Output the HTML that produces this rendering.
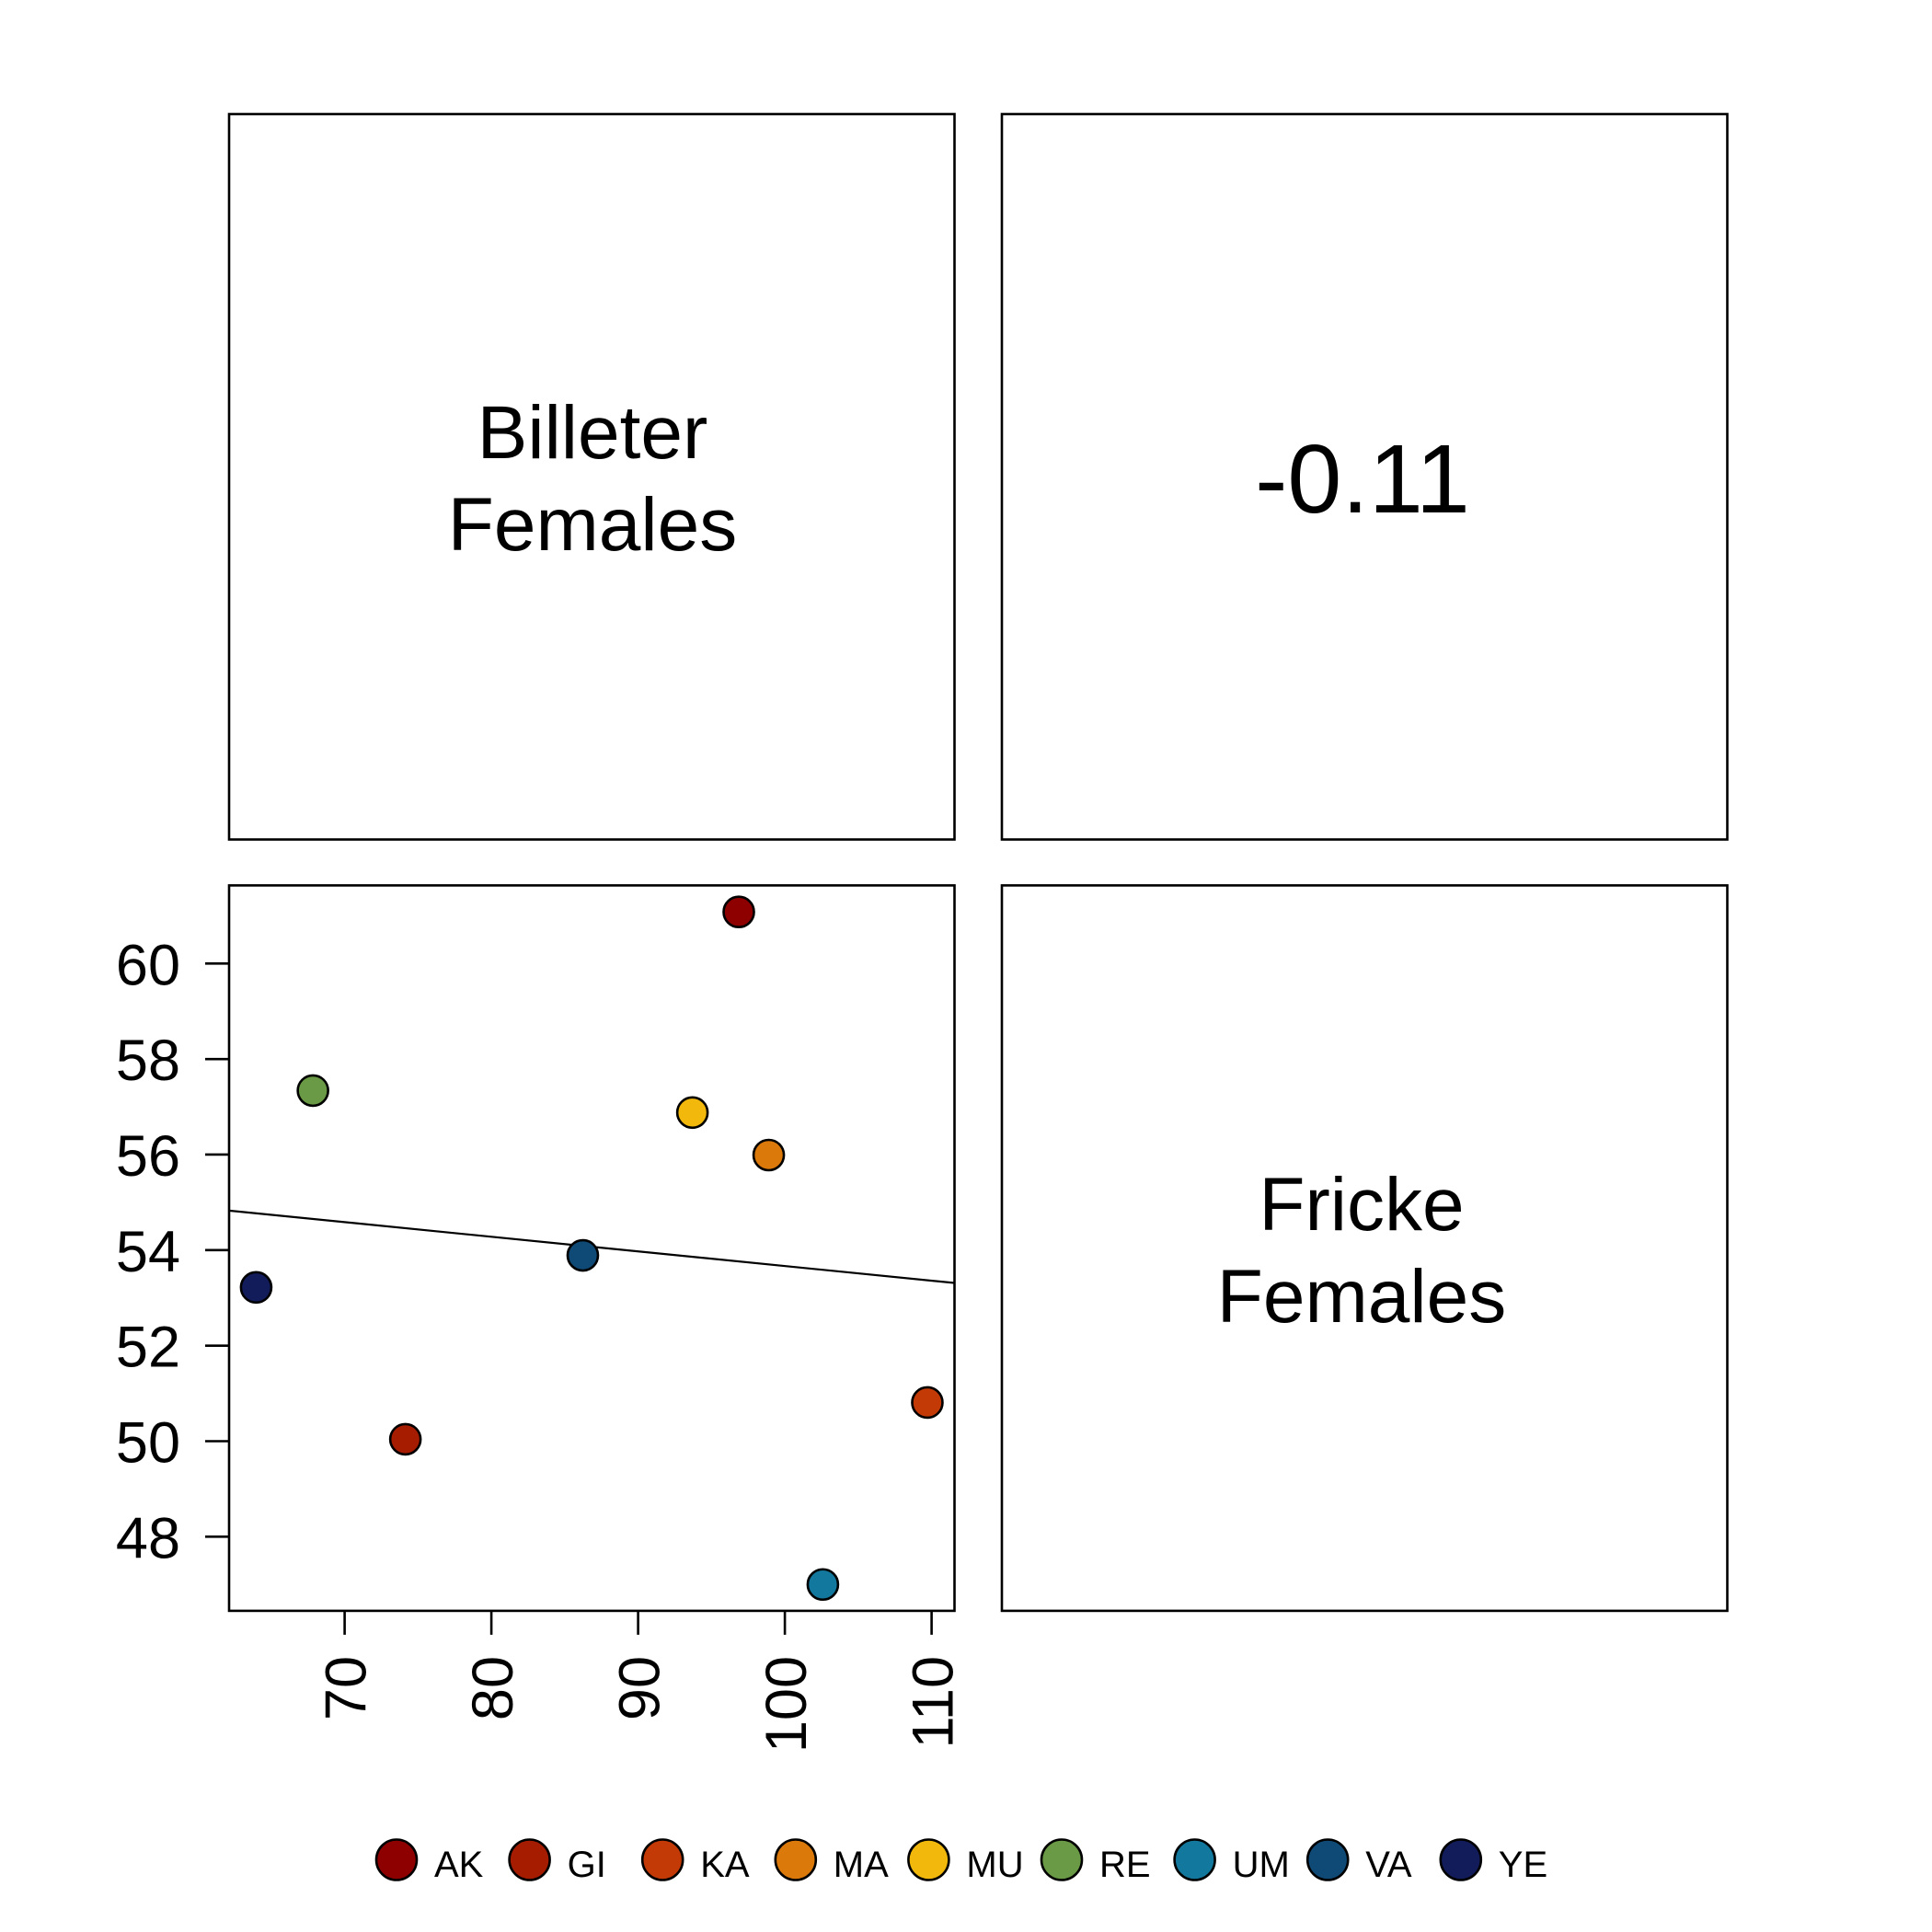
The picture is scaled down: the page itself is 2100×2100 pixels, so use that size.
<!DOCTYPE html>
<html><head><meta charset="utf-8"><style>
html,body{margin:0;padding:0;background:#fff;}
svg{display:block;font-family:"Liberation Sans",Arial,sans-serif;}
</style></head><body>
<svg id="chart" width="2100" height="2100" viewBox="0 0 2100 2100" xmlns="http://www.w3.org/2000/svg">
  <rect x="0" y="0" width="2100" height="2100" fill="#fff"/>
  <rect x="249" y="124" width="788.5" height="788.5" fill="none" stroke="#000" stroke-width="2.6"/>
  <rect x="1089" y="124" width="788.5" height="788.5" fill="none" stroke="#000" stroke-width="2.6"/>
  <rect x="249" y="962.4" width="788.5" height="788.5" fill="none" stroke="#000" stroke-width="2.6"/>
  <rect x="1089" y="962.4" width="788.5" height="788.5" fill="none" stroke="#000" stroke-width="2.6"/>
  <text x="644" y="498" font-size="82" text-anchor="middle">Billeter</text>
  <text x="644" y="598" font-size="82" text-anchor="middle">Females</text>
  <text x="1481" y="557" font-size="106" text-anchor="middle">-0.11</text>
  <text x="1480" y="1337" font-size="82" text-anchor="middle">Fricke</text>
  <text x="1480" y="1437" font-size="82" text-anchor="middle">Females</text>
  <g id="axes"></g>
  <g id="marks"></g>
  <g id="legend"></g>
</svg>
<script>
const categories = ["AK","GI","KA","MA","MU","RE","UM","VA","YE"];
const billeterValues = [96.86, 74.14, 109.71, 98.9, 93.7, 67.84, 102.59, 86.23, 63.97];
const frickeValues = [61.08, 50.04, 50.81, 55.99, 56.88, 57.34, 47.0, 53.89, 53.22];
const colors = ["#8e0000","#a61c00","#c33a06","#dc790b","#f2b90c","#6a9a45","#13789d","#0f4a77","#121c5a"];
const xTicks = [70, 80, 90, 100, 110];
const yTicks = [48, 50, 52, 54, 56, 58, 60];

const NS = "http://www.w3.org/2000/svg";
const PL = 249, PR = 1037.5, PT = 962.4, PB = 1750.9;
function xs(v){ return 374.6 + (v - 70) * 15.95; }
function ys(v){ return 1047.3 - (v - 60) * 51.92; }
function mk(tag, attrs, parent){
  const e = document.createElementNS(NS, tag);
  for (const k in attrs) e.setAttribute(k, attrs[k]);
  parent.appendChild(e);
  return e;
}
const axes = document.getElementById("axes");
const marks = document.getElementById("marks");
const legend = document.getElementById("legend");

yTicks.forEach(v => {
  const t = mk("line", {x1: PL - 26, x2: PL, y1: ys(v), y2: ys(v), stroke: "#000", "stroke-width": 2.6}, axes);
  
  
  const l = mk("text", {x: 196, y: ys(v) + 23, "font-size": 63, "text-anchor": "end"}, axes);
  l.textContent = v;
  
  
});
xTicks.forEach(v => {
  const t = mk("line", {x1: xs(v), x2: xs(v), y1: PB, y2: PB + 26, stroke: "#000", "stroke-width": 2.6}, axes);
  
  
  const l = mk("text", {x: 0, y: 0, "font-size": 63, "text-anchor": "end", transform: "translate(" + (xs(v) + 23) + ",1800) rotate(-90)"}, axes);
  l.textContent = v;
  
  
});

// regression line
const n = billeterValues.length;
const mx = billeterValues.reduce((a,b)=>a+b,0)/n;
const my = frickeValues.reduce((a,b)=>a+b,0)/n;
let sxy = 0, sxx = 0;
for (let i = 0; i < n; i++){ sxy += (billeterValues[i]-mx)*(frickeValues[i]-my); sxx += (billeterValues[i]-mx)**2; }
const slope = sxy / sxx, icpt = my - slope * mx;
const xL = 70 + (PL - 374.6) / 15.95, xR = 70 + (PR - 374.6) / 15.95;
const reg = mk("line", {x1: PL, y1: ys(icpt + slope * xL), x2: PR, y2: ys(icpt + slope * xR), stroke: "#000", "stroke-width": 2.2}, marks);



categories.forEach((c, i) => {
  const p = mk("circle", {cx: xs(billeterValues[i]), cy: ys(frickeValues[i]), r: 16.5, fill: colors[i], stroke: "#000", "stroke-width": 2.6}, marks);
  
  
});

categories.forEach((c, i) => {
  const cx = 431 + i * 144.6;
  const g = mk("g", {}, legend);
  
  
  mk("circle", {cx: cx, cy: 2021.5, r: 22, fill: colors[i], stroke: "#000", "stroke-width": 2.6}, g);
  const t = mk("text", {x: cx + 41, y: 2040, "font-size": 40}, g);
  t.textContent = c;
});
</script>
</body></html>
